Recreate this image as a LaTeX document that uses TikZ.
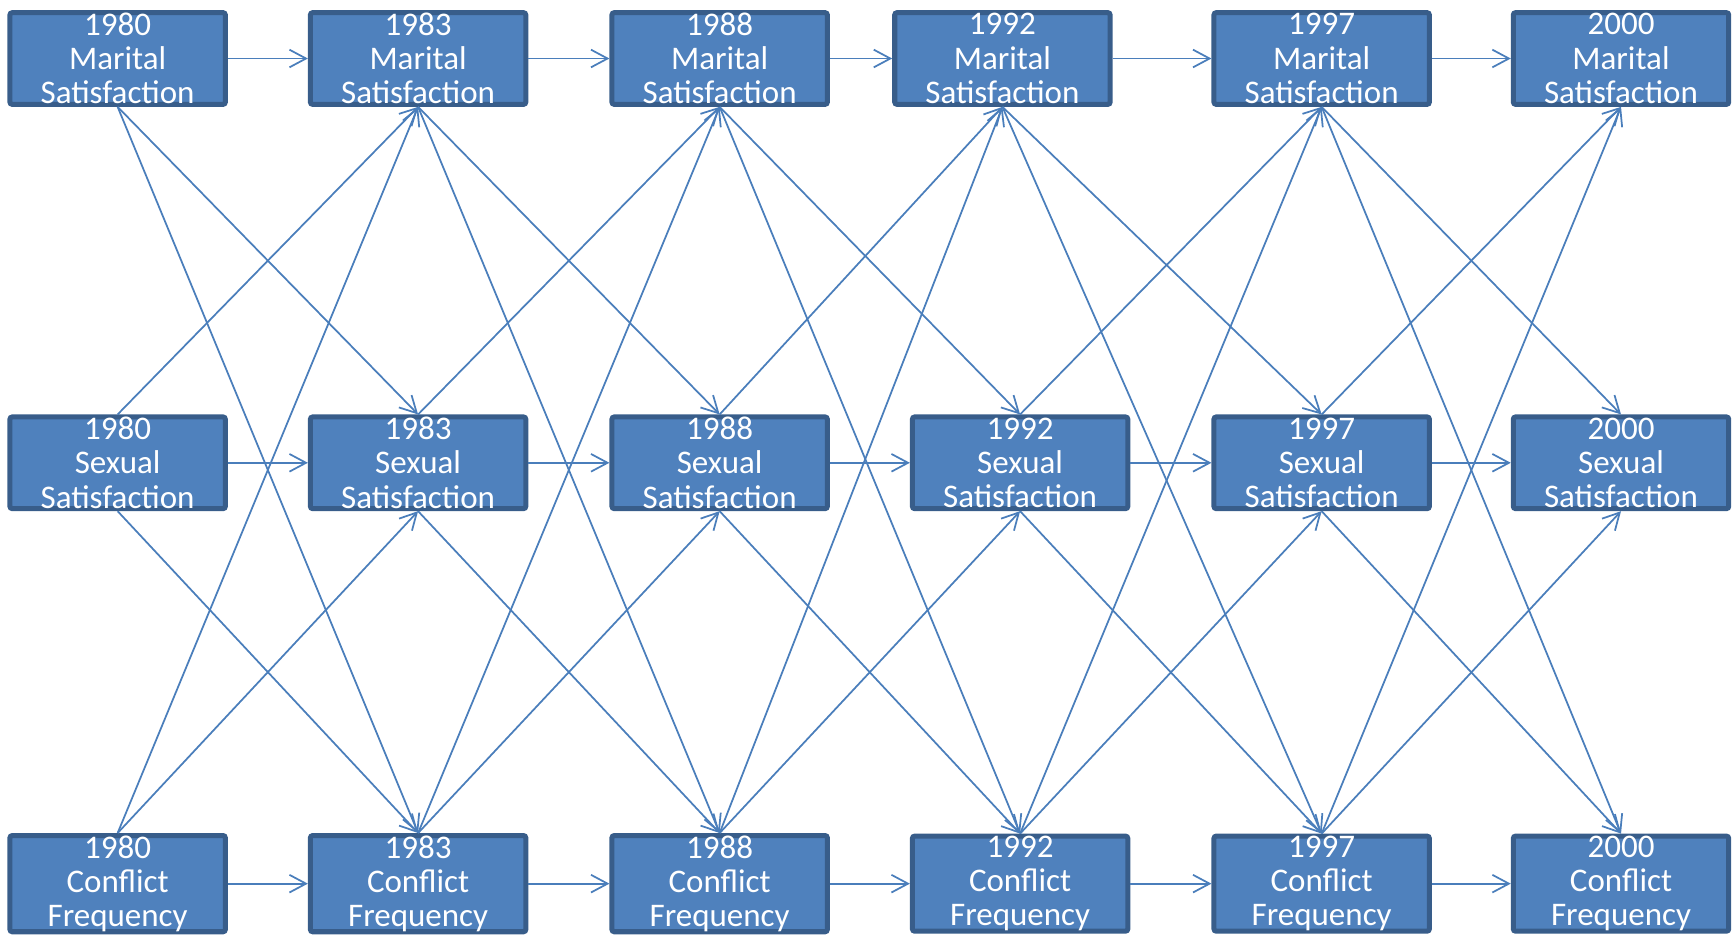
\documentclass[tikz,border=0pt]{standalone}
\usepackage{fontspec}
\setmainfont{Carlito}
\usetikzlibrary{arrows.meta}
\definecolor{boxfill}{HTML}{4F81BD}
\definecolor{boxline}{HTML}{385D8A}
\definecolor{arrowblue}{HTML}{4A7EBB}

\begin{document}
\begin{tikzpicture}[
	varbox/.style={draw=boxline, fill=boxfill, line width=1.3pt, rounded corners=0.6pt, minimum width=1.95cm, minimum height=0.83cm, inner sep=0pt, align=center, text=white, font=\fontsize{8.5}{8.8}\selectfont},
	link/.style={draw=arrowblue, line width=0.45pt, -{Straight Barb[length=1.5mm,width=1.6mm]}}
]
	\useasboundingbox (0,0) rectangle (15.68,8.5);

	%Boxes
	\foreach \yr/\x/\xm [count=\i] in {1980/1.065/1.065,1983/3.785/3.785,1988/6.515/6.515,1992/9.235/9.075,1997/11.965/11.965,2000/14.675/14.675}{
		\node[varbox] (m\i) at (\xm,7.97) {\yr\\Marital\\Satisfaction};
		\node[varbox] (s\i) at (\x,4.31) {\yr\\Sexual\\Satisfaction};
		\node[varbox] (c\i) at (\x,0.50) {\yr\\Conflict\\Frequency};
	}

	%Stability paths
	\foreach \i [count=\j from 2] in {1,...,5}{
		\draw[link] (m\i.east) -- (m\j.west);
		\draw[link] (s\i.east) -- (s\j.west);
		\draw[link] (c\i.east) -- (c\j.west);
	}

	%Cross-lagged paths
	\foreach \i [count=\j from 2] in {1,...,5}{
		\draw[link] (m\i.south) -- (s\j.north);
		\draw[link] (m\i.south) -- (c\j.north);
		\draw[link] (s\i.north) -- (m\j.south);
		\draw[link] (s\i.south) -- (c\j.north);
		\draw[link] (c\i.north) -- (m\j.south);
		\draw[link] (c\i.north) -- (s\j.south);
	}
\end{tikzpicture}
\end{document}
